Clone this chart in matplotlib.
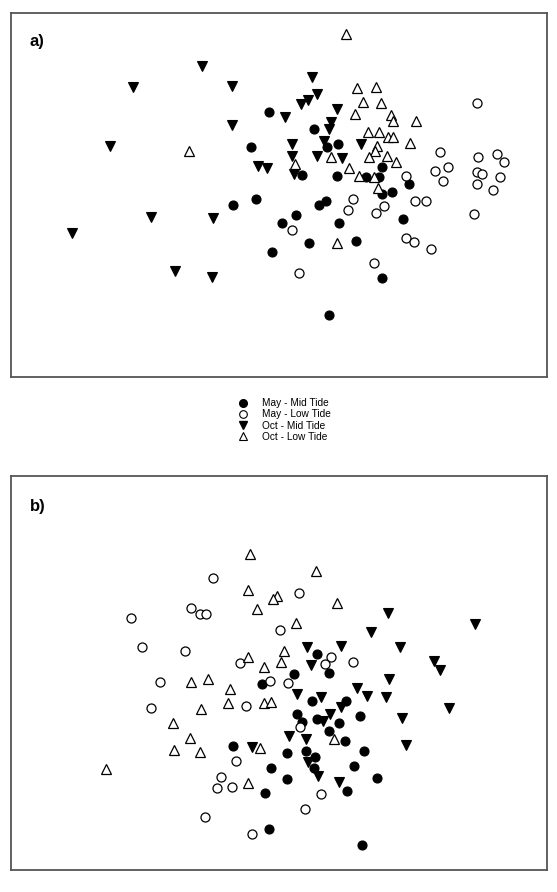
import matplotlib
matplotlib.use('Agg')
import matplotlib.pyplot as plt
from matplotlib.lines import Line2D

plt.rcParams['font.family'] = ['Liberation Sans', 'DejaVu Sans']

# ----- Panel a (NMDS scores) -----
a_may_mid_x = [-0.10, -0.28, 0.35, 0.48, 0.59, 1.03, 0.23, 0.58, 0.87, 1.00, 1.30, 1.03, 1.13,
               0.47, 0.40, -0.23, -0.46, 0.17, 0.03, 0.60, 1.24, 0.30, 0.77, -0.07, 1.03, 0.50]
a_may_mid_y = [0.83, 0.48, 0.66, 0.48, 0.51, 0.28, 0.20, 0.19, 0.18, 0.18, 0.11, 0.01, 0.03,
               -0.06, -0.10, -0.04, -0.10, -0.20, -0.28, -0.28, -0.24, -0.48, -0.46, -0.57, -0.83, -1.20]

a_may_low_x = [1.98, 1.61, 1.99, 2.18, 2.25, 1.69, 1.56, 1.27, 1.98, 2.03, 2.21, 1.64, 1.98, 2.14,
               0.74, 0.69, 1.05, 0.97, 1.36, 1.47, 1.95, 0.13, 1.27, 1.35, 1.52, 0.95, 0.20]
a_may_low_y = [0.92, 0.43, 0.38, 0.41, 0.33, 0.28, 0.24, 0.19, 0.23, 0.21, 0.18, 0.14, 0.11, 0.05,
               -0.04, -0.15, -0.11, -0.18, -0.06, -0.06, -0.19, -0.35, -0.43, -0.47, -0.54, -0.68, -0.78]

a_oct_mid_x = [-0.77, -1.46, -0.47, 0.06, -0.47, -1.69, -0.21, -0.12, 0.33, 0.38, 0.29, 0.22, 0.58, 0.52,
               0.50, 0.45, 0.13, 0.82, 0.13, 0.38, 0.63, 0.15, -1.28, -0.66, -2.07, -1.04, -0.67]
a_oct_mid_y = [1.29, 1.08, 1.09, 0.78, 0.70, 0.49, 0.29, 0.27, 1.18, 1.01, 0.95, 0.91, 0.86, 0.73,
               0.66, 0.54, 0.51, 0.51, 0.39, 0.39, 0.37, 0.21, -0.22, -0.23, -0.38, -0.76, -0.82]

a_oct_low_x = [0.67, -0.90, 0.78, 0.97, 0.84, 1.02, 0.76, 1.12, 1.14, 1.37, 0.89, 1.00, 1.09, 1.14,
               1.31, 0.98, 0.96, 0.52, 0.90, 1.08, 1.17, 0.16, 0.70, 0.80, 0.95, 0.99, 0.58]
a_oct_low_y = [1.61, 0.44, 1.07, 1.08, 0.93, 0.92, 0.81, 0.80, 0.74, 0.74, 0.63, 0.63, 0.58, 0.58,
               0.52, 0.49, 0.44, 0.38, 0.38, 0.39, 0.33, 0.31, 0.27, 0.19, 0.18, 0.07, -0.48]

# ----- Panel b (NMDS scores) -----
b_may_mid_x = [0.38, 0.15, -0.17, 0.50, 0.33, 0.18, 0.23, 0.38, -0.46, 0.08, 0.27, 0.36, -0.08, 0.35,
               0.08, -0.14, -0.10, 0.67, 0.60, 0.81, 0.50, 0.66, 0.85, 0.75, 0.98, 0.68, 0.83]
b_may_mid_y = [0.19, -0.01, -0.11, 0.00, -0.28, -0.41, -0.49, -0.46, -0.73, -0.80, -0.78, -0.84, -0.95, -0.95,
               -1.06, -1.20, -1.56, -0.28, -0.50, -0.43, -0.58, -0.68, -0.78, -0.93, -1.05, -1.18, -1.72]

b_may_low_x = [-0.66, 0.20, -0.88, -0.79, -0.73, -1.48, 0.01, -1.37, -0.94, -0.39, -1.19, -0.09, 0.09, 0.52,
               0.46, 0.74, -1.28, -0.33, 0.21, -0.43, -0.58, -0.62, -0.47, 0.42, -0.74, 0.26, -0.27]
b_may_low_y = [0.95, 0.80, 0.65, 0.59, 0.59, 0.55, 0.43, 0.26, 0.22, 0.10, -0.09, -0.08, -0.10, 0.16,
               0.09, 0.11, -0.35, -0.33, -0.54, -0.88, -1.04, -1.15, -1.14, -1.21, -1.44, -1.36, -1.61]

b_oct_mid_x = [0.28, 0.32, 1.09, 1.96, 0.92, 0.62, 1.21, 1.55, 1.61, 1.10, 0.78, 0.18, 0.42, 0.88,
               1.07, 0.62, 1.70, 0.44, 0.51, 1.23, 0.10, 0.27, -0.27, 1.27, 0.29, 0.39, 0.60]
b_oct_mid_y = [0.26, 0.08, 0.60, 0.49, 0.41, 0.27, 0.26, 0.12, 0.03, -0.06, -0.15, -0.21, -0.24, -0.23,
               -0.24, -0.34, -0.35, -0.48, -0.41, -0.45, -0.63, -0.66, -0.74, -0.72, -0.89, -1.03, -1.09]

b_oct_low_x = [-0.29, 0.37, -0.31, -0.02, -0.06, -0.22, 0.17, 0.58, 0.05, -0.31, -0.15, 0.02, -0.88, -0.71,
               -0.49, -0.78, -0.51, -0.15, -0.08, -1.06, -0.89, -1.05, -0.79, -0.19, -1.73, -0.31, 0.55]
b_oct_low_y = [1.19, 1.02, 0.83, 0.77, 0.74, 0.64, 0.50, 0.70, 0.22, 0.16, 0.06, 0.11, -0.09, -0.06,
               -0.16, -0.36, -0.30, -0.30, -0.29, -0.50, -0.65, -0.77, -0.79, -0.75, -0.96, -1.10, -0.66]

labels = ['May - Mid Tide', 'May - Low Tide', 'Oct - Mid Tide', 'Oct - Low Tide']

W, H = 557, 892
fig = plt.figure(figsize=(W / 100, H / 100), dpi=100)


def px_axes(left, top, right, bottom):
    return fig.add_axes([left / W, 1 - bottom / H, (right - left) / W, (bottom - top) / H])


def draw_panel(ax, groups, ylim, tag):
    styles = [
        dict(marker='o', ms=6.5, mfc='black', mec='black', mew=0.8),
        dict(marker='o', ms=6.5, mfc='white', mec='black', mew=0.9),
        dict(marker='v', ms=7.5, mfc='black', mec='black', mew=0.8),
        dict(marker='^', ms=7.0, mfc='white', mec='black', mew=0.9),
    ]
    for (x, y), st in zip(groups, styles):
        ax.plot(x, y, ls='none', **st)
    ax.set_xlim(-2.68, 2.68)
    ax.set_ylim(*ylim)
    ax.set_xticks([])
    ax.set_yticks([])
    for s in ax.spines.values():
        s.set_color('#555555')
        s.set_linewidth(1.3)
    ax.text(0.035, 0.91, tag, transform=ax.transAxes, fontsize=12, fontweight='bold')


ax1 = px_axes(11, 13, 547, 377)
draw_panel(ax1, [(a_may_mid_x, a_may_mid_y), (a_may_low_x, a_may_low_y),
                 (a_oct_mid_x, a_oct_mid_y), (a_oct_low_x, a_oct_low_y)],
           (-1.82, 1.82), 'a)')

ax2 = px_axes(11, 476, 547, 870)
draw_panel(ax2, [(b_may_mid_x, b_may_mid_y), (b_may_low_x, b_may_low_y),
                 (b_oct_mid_x, b_oct_mid_y), (b_oct_low_x, b_oct_low_y)],
           (-1.97, 1.97), 'b)')

handles = [
    Line2D([], [], ls='none', marker='o', ms=5.5, mfc='black', mec='black'),
    Line2D([], [], ls='none', marker='o', ms=5.5, mfc='white', mec='black', mew=0.8),
    Line2D([], [], ls='none', marker='v', ms=6, mfc='black', mec='black'),
    Line2D([], [], ls='none', marker='^', ms=6, mfc='white', mec='black', mew=0.8),
]
fig.legend(handles, labels, loc='upper left', bbox_to_anchor=(233 / W, 1 - 393 / H),
           frameon=False, fontsize=7.3, handlelength=1.0, handletextpad=1.4,
           labelspacing=0.12, borderpad=0)

fig.savefig('out.png', dpi=100)
